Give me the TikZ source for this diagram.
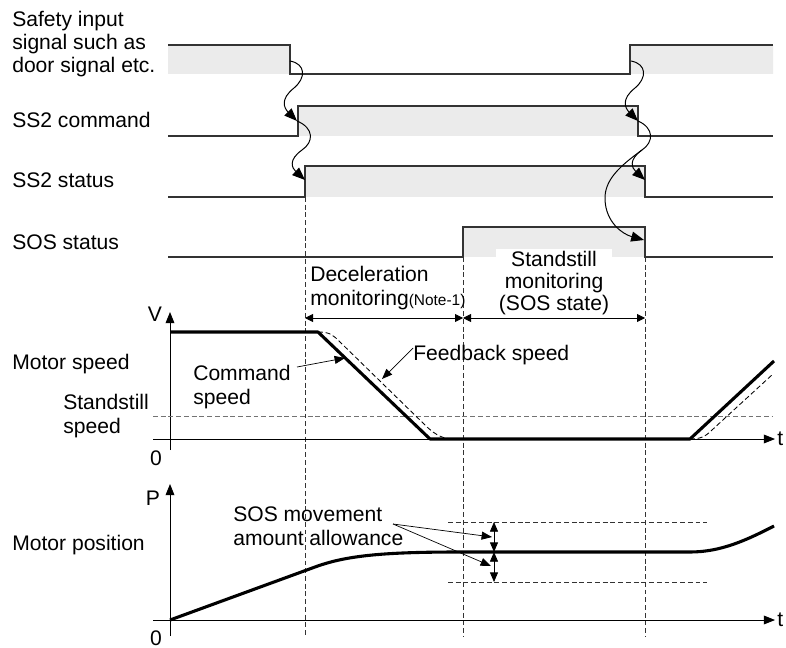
\documentclass[tikz,border=0pt]{standalone}
\usepackage{fontspec}
\setmainfont{Liberation Sans}
\usetikzlibrary{arrows.meta}

\begin{document}
\begin{tikzpicture}[x=0.025cm, y=-0.025cm,
    font=\fontsize{15}{16.4}\selectfont,
    sig/.style={line width=0.9pt, black!80},
    hi/.style={fill=black!8},
    guide/.style={black!80, line width=0.6pt, dash pattern=on 3.5pt off 2pt},
    axis/.style={line width=0.6pt, -{Triangle[length=2.8mm,width=2.2mm]}},
    wave/.style={line width=0.7pt, -{Triangle[length=3.2mm,width=2.5mm]}},
    span/.style={line width=0.6pt, {Triangle[length=2mm,width=2mm]}-{Triangle[length=2mm,width=2mm]}},
    pointer/.style={line width=0.5pt, -{Triangle[length=2.6mm,width=2mm]}},
    curve/.style={line width=2.2pt, line join=round},
    lbl/.style={anchor=base west, inner sep=0pt, align=left},
]
    \useasboundingbox (0,0) rectangle (786,648);

    % Signal names on the left (multi-line nodes sit on their last baseline)
    \node[lbl] (safety) at (12,73) {Safety input\\signal such as\\door signal etc.};
    \node[lbl] (cmd) at (12,128) {SS2 command};
    \node[lbl] (status) at (12,188) {SS2 status};
    \node[lbl] (sos) at (12,249) {SOS status};
    \node[lbl] (mspeed) at (12,369) {Motor speed};
    \node[lbl] (sspeed) at (63,433) {Standstill\\speed};
    \node[lbl] (mpos) at (12,550) {Motor position};

    % Safety input signal
    \fill[hi] (168,45) rectangle (290,74) (630,45) rectangle (773,74);
    \draw[sig] (168,45) -| (290,74) -| (630,45) -- (773,45);

    % SS2 command
    \fill[hi] (298,106) rectangle (638,136);
    \draw[sig] (168,136) -| (298,106) -| (638,136) -- (773,136);

    % SS2 status
    \fill[hi] (305,166) rectangle (645,197);
    \draw[sig] (168,197) -| (305,166) -| (645,197) -- (773,197);

    % SOS status
    \fill[hi] (463,227) rectangle (645,257);
    \draw[sig] (168,257) -| (463,227) -| (645,257) -- (773,257);

    % Edges that trigger one another
    \coordinate (e1) at (290,61);
    \coordinate (e2) at (297,121);
    \coordinate (e3) at (305,180);
    \coordinate (f1) at (631,61);
    \coordinate (f2) at (638,121);
    \coordinate (fb) at (642,150);
    \coordinate (f3) at (645,180);
    \coordinate (f4) at (644,240);
    \draw[wave] (e1) .. controls (306,64) and (306,78) .. (294,88) .. controls (280,99) and (284,108) .. (e2);
    \draw[wave] (e2) .. controls (314,128) and (314,142) .. (302,150) .. controls (288,160) and (292,168) .. (e3);
    \draw[wave] (f1) .. controls (647,64) and (647,78) .. (635,88) .. controls (621,99) and (625,108) .. (f2);
    \draw[wave] (f2) .. controls (654,128) and (654,142) .. (fb) .. controls (628,160) and (632,168) .. (f3);
    \draw[wave] (fb) .. controls (620,166) and (604,180) .. (605,200) .. controls (606,222) and (622,234) .. (f4);

    % Monitoring periods
    \draw[guide] (305,197) -- (305,636);
    \draw[guide] (463,257) -- (463,636);
    \draw[guide] (645,257) -- (645,636);
    \coordinate (d0) at (305,318);
    \coordinate (d1) at (463,318);
    \coordinate (d2) at (645,318);
    \draw[span] (d0) -- (d1);
    \draw[span] (d1) -- (d2);
    \node[lbl] (decel) at (310,305) {Deceleration\\monitoring{\fontsize{11}{12}\selectfont(Note-1)}};
    \node[fill=white, inner sep=2pt, align=center, anchor=base,
        font=\fontsize{15}{15.3}\selectfont] (sosmon) at (554,310) {Standstill\\monitoring\\(SOS state)};

    % Motor speed axes
    \draw[axis] (170,450) -- (170,312);
    \draw[axis] (153,439) -- (775,439);
    \node[anchor=base, inner sep=0pt] (vlab) at (155,321) {V};
    \node[anchor=base west, inner sep=0pt] (t1) at (777,445) {t};
    \node[anchor=base, inner sep=0pt] (o1) at (156,465) {0};
    \draw[guide, black!55] (153,416) -- (773,416);

    % Command and feedback speed
    \draw[curve] (170,332) -- (318,332) -- (430,439) -- (690,439) -- (774,361);
    \draw[guide, black] (318,332) .. controls (330,332) and (333,335) .. (340,342) -- (425,425)
        .. controls (437,437) and (445,439) .. (455,439);
    \draw[guide, black] (690,439) .. controls (700,439) and (705,437) .. (712,430) -- (773,374);
    \node[lbl] (cmdspeed) at (193,404) {Command\\speed};
    \node[lbl] (fbspeed) at (413,360) {Feedback speed};
    \coordinate (cs0) at (297,367);
    \coordinate (cs1) at (345,358);
    \coordinate (fs0) at (413,348);
    \coordinate (fs1) at (382,379);
    \draw[pointer] (cs0) -- (cs1);
    \draw[pointer] (fs0) -- (fs1);

    % Motor position axes
    \draw[axis] (170,636) -- (170,484);
    \draw[axis] (153,620) -- (775,620);
    \node[anchor=base, inner sep=0pt] (plab) at (153,505) {P};
    \node[anchor=base west, inner sep=0pt] (t2) at (777,626) {t};
    \node[anchor=base, inner sep=0pt] (o2) at (156,645) {0};

    % Motor position curve
    \draw[curve] (170,620) -- (315,567) .. controls (345,556) and (380,552) .. (460,552)
        -- (690,552) .. controls (720,552) and (745,541) .. (774,526);

    % Movement allowance
    \draw[guide] (448,522) -- (707,522);
    \draw[guide] (448,582) -- (707,582);
    \coordinate (au) at (494,522);
    \coordinate (am) at (494,552);
    \coordinate (al) at (494,582);
    \draw[line width=0.5pt, {Triangle[length=2.4mm,width=2mm]}-{Triangle[length=2.4mm,width=2mm]}] (au) -- (am);
    \draw[line width=0.5pt, {Triangle[length=2.4mm,width=2mm]}-{Triangle[length=2.4mm,width=2mm]}] (am) -- (al);
    \node[lbl] (allow) at (233,545) {SOS movement\\amount allowance};
    \coordinate (ap) at (393,524);
    \coordinate (ap1) at (492,537);
    \coordinate (ap2) at (491,566);
    \draw[pointer] (ap) -- (ap1);
    \draw[pointer] (ap) -- (ap2);
\end{tikzpicture}
\end{document}
